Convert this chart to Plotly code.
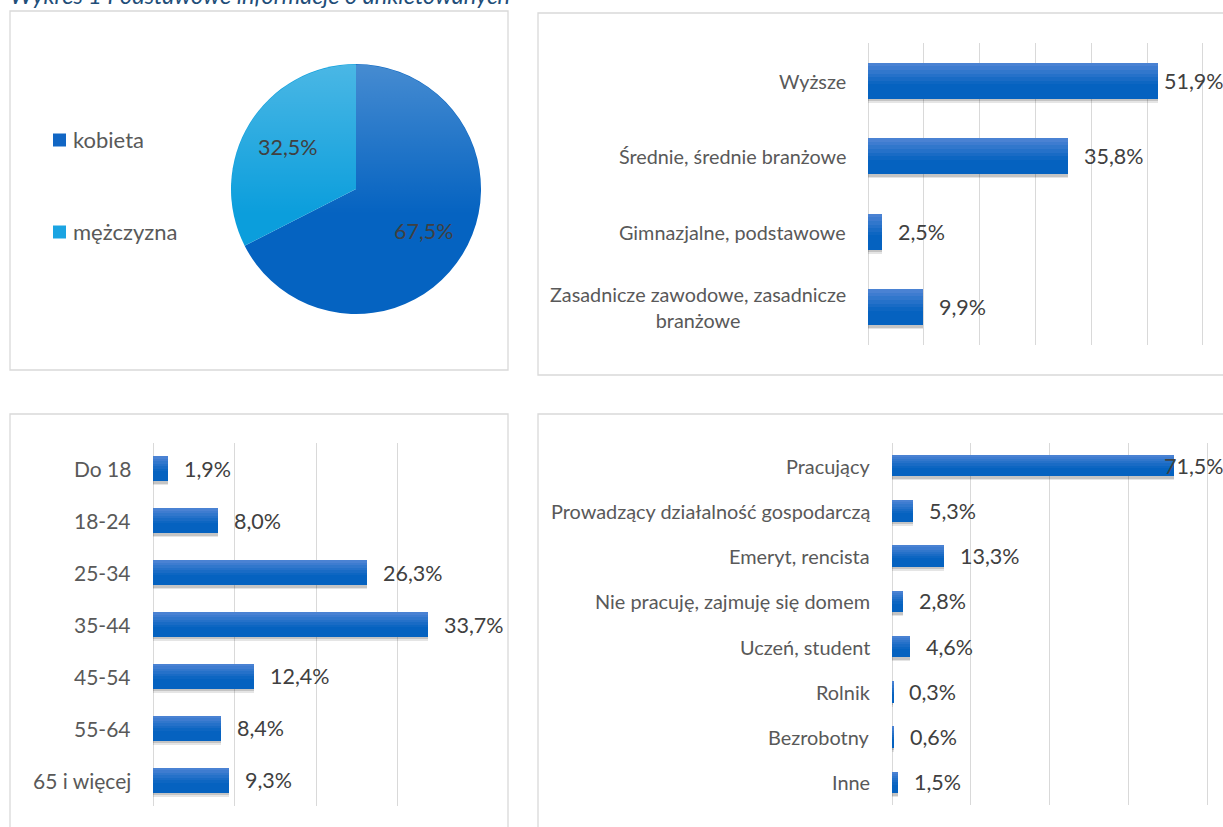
import base64
import math
import plotly.graph_objects as go

# ---------------- data ----------------
title_text = "Wykres 1 Podstawowe informacje o ankietowanych"

gender_labels = ["kobieta", "mężczyzna"]
gender_values = [67.5, 32.5]

edu_labels = ["Wyższe", "Średnie, średnie branżowe", "Gimnazjalne, podstawowe",
              "Zasadnicze zawodowe, zasadnicze<br>branżowe"]
edu_values = [51.9, 35.8, 2.5, 9.9]

age_labels = ["Do 18", "18-24", "25-34", "35-44", "45-54", "55-64", "65 i więcej"]
age_values = [1.9, 8.0, 26.3, 33.7, 12.4, 8.4, 9.3]

job_labels = ["Pracujący", "Prowadzący działalność gospodarczą", "Emeryt, rencista",
              "Nie pracuję, zajmuję się domem", "Uczeń, student", "Rolnik",
              "Bezrobotny", "Inne"]
job_values = [71.5, 5.3, 13.3, 2.8, 4.6, 0.3, 0.6, 1.5]

# ---------------- style ----------------
W, H = 1223, 827
FONT = "Lato"
TXT = "#595959"
LBL = "#404040"
GRID = "#D9D9D9"
VAL_FS = 21.5
PIE_COLORS = ["#0563C1", "#0B9EDC"]
LEGEND_COLORS = ["#1166C4", "#1BA4E2"]
BAR_TOP = (0x4A, 0x82, 0xD3)
BAR_BOT = (0x05, 0x62, 0xC0)


def px(x):
    return x / W


def py(y):
    return 1 - y / H


def fmt(v):
    return f"{v:.1f}%".replace(".", ",")


fig = go.Figure()
annotations = []
shapes = []
images = []

# panel frames
for x0, y0, x1, y1 in [(10, 11, 508, 370), (538, 13, 1240, 375),
                       (10, 414, 508, 850), (538, 414, 1240, 850)]:
    shapes.append(dict(type="rect", xref="paper", yref="paper",
                       x0=px(x0), x1=px(x1), y0=py(y1), y1=py(y0),
                       line=dict(color=GRID, width=1.3), fillcolor="rgba(0,0,0,0)",
                       layer="below"))

# title (partly above the page edge)
annotations.append(dict(text=f"<i>{title_text}</i>", xref="paper", yref="paper",
                        x=px(8), y=py(-5), xanchor="left", yanchor="middle",
                        showarrow=False, font=dict(family=FONT, size=23.5, color="#1F4E79")))

# ---------------- pie ----------------
PIE_X0, PIE_Y0, PIE_D = 231, 64, 250
fig.add_trace(go.Pie(
    labels=gender_labels, values=gender_values, sort=False, direction="clockwise",
    rotation=0, textinfo="none",
    marker=dict(colors=PIE_COLORS, line=dict(width=0)),
    domain=dict(x=[px(PIE_X0), px(PIE_X0 + PIE_D)], y=[py(PIE_Y0 + PIE_D), py(PIE_Y0)]),
    showlegend=False, hoverinfo="label+percent"))

# slice labels at each slice's mid-angle
cx, cy0, r = PIE_X0 + PIE_D / 2, PIE_Y0 + PIE_D / 2, PIE_D / 2
total = sum(gender_values)
start = 0.0
for v in gender_values:
    mid = (start + v / 2) / total * 2 * math.pi
    start += v
    lx = cx + 0.64 * r * math.sin(mid)
    ly = cy0 - 0.64 * r * math.cos(mid)
    annotations.append(dict(text=fmt(v), xref="paper", yref="paper", x=px(lx), y=py(ly),
                            xanchor="center", yanchor="middle", showarrow=False,
                            font=dict(family=FONT, size=VAL_FS, color=LBL)))

# light sheen over the upper half of the pie
sheen = (
    '<svg xmlns="http://www.w3.org/2000/svg" width="250" height="250" viewBox="0 0 250 250">'
    '<defs><linearGradient id="g" x1="0" y1="0" x2="0" y2="1">'
    '<stop offset="0" stop-color="#ffffff" stop-opacity="0.26"/>'
    '<stop offset="0.6" stop-color="#ffffff" stop-opacity="0"/>'
    '</linearGradient></defs>'
    '<circle cx="125" cy="125" r="124.5" fill="url(#g)"/></svg>'
)
images.append(dict(source="data:image/svg+xml;base64," + base64.b64encode(sheen.encode()).decode(),
                   xref="paper", yref="paper", x=px(PIE_X0), y=py(PIE_Y0),
                   sizex=PIE_D / W, sizey=PIE_D / H, sizing="stretch",
                   xanchor="left", yanchor="top", layer="above"))

# manual legend for the pie
for i, (lab, col) in enumerate(zip(gender_labels, LEGEND_COLORS)):
    ly = 140 + i * 92
    shapes.append(dict(type="rect", xref="paper", yref="paper",
                       x0=px(53), x1=px(66), y0=py(ly + 6.5), y1=py(ly - 6.5),
                       fillcolor=col, line=dict(width=0)))
    annotations.append(dict(text=lab, xref="paper", yref="paper", x=px(71), y=py(ly),
                            xanchor="left", yanchor="middle", showarrow=False,
                            font=dict(family=FONT, size=22, color=TXT)))


# ---------------- bar charts ----------------
def mix(t):
    r_, g, b = (round(BAR_TOP[k] + (BAR_BOT[k] - BAR_TOP[k]) * t) for k in range(3))
    return f"rgb({r_},{g},{b})"


def hbar(idx, cats, vals, xdom, ydom, xmax, dtick, bw, label_shift, cat_fs):
    xa = "x" if idx == 1 else f"x{idx}"
    ya = "y" if idx == 1 else f"y{idx}"
    n = len(cats)
    unit = (ydom[1] - ydom[0]) * H / n  # pixels per category
    # soft drop shadow
    for dy, a in [(4, 0.10), (2.5, 0.14)]:
        fig.add_trace(go.Bar(y=list(range(n)), x=vals, orientation="h", xaxis=xa, yaxis=ya,
                             width=bw, offset=-bw / 2 + dy / unit,
                             marker=dict(color=f"rgba(0,0,0,{a})", line=dict(width=0)),
                             showlegend=False, hoverinfo="skip"))
    # vertical gradient: each band runs from its top down to the bar's bottom edge
    nb = 10
    for b in range(nb):
        t = min(1.0, b / (nb - 1) * 1.6)
        fig.add_trace(go.Bar(y=list(range(n)), x=vals, orientation="h", xaxis=xa, yaxis=ya,
                             width=bw - b * bw / nb, offset=-bw / 2 + b * bw / nb,
                             marker=dict(color=mix(t), line=dict(width=0)),
                             showlegend=False, hoverinfo="skip"))
    x_px0 = xdom[0] * W
    scale = (xdom[1] - xdom[0]) * W / xmax
    for i, (c, v) in enumerate(zip(cats, vals)):
        end_px = x_px0 + v * scale + label_shift + 60
        if end_px > W + 2:
            annotations.append(dict(text=fmt(v), xref="paper", yref=ya, x=1, y=i,
                                    xanchor="right", yanchor="middle", xshift=3,
                                    showarrow=False,
                                    font=dict(family=FONT, size=VAL_FS, color=LBL)))
        else:
            annotations.append(dict(text=fmt(v), xref=xa, yref=ya, x=v, y=i,
                                    xanchor="left", yanchor="middle", xshift=label_shift,
                                    showarrow=False,
                                    font=dict(family=FONT, size=VAL_FS, color=LBL)))
        # category label, lines centred on each other like a wrapped label
        annotations.append(dict(text=c, xref=f"{xa} domain", yref=ya, x=0, y=i,
                                xanchor="right", yanchor="middle", align="center",
                                xshift=-20, showarrow=False,
                                font=dict(family=FONT, size=cat_fs, color=TXT)))
    axis_x = dict(domain=xdom, range=[0, xmax], dtick=dtick, showgrid=True, gridcolor=GRID,
                  gridwidth=1.3, zeroline=True, zerolinecolor=GRID, zerolinewidth=1.3,
                  showticklabels=False, showline=False, anchor=ya, fixedrange=True)
    axis_y = dict(domain=ydom, range=[n - 0.5, -0.5], showgrid=False, zeroline=False,
                  showticklabels=False, showline=False, anchor=xa, fixedrange=True,
                  tickvals=list(range(n)))
    return axis_x, axis_y


ax2x, ax2y = hbar(1, edu_labels, edu_values, [px(868), 1.0], [py(345), py(43)],
                  (W - 868) / 5.58, 10, 0.48, 14, 19.8)
ax3x, ax3y = hbar(2, age_labels, age_values, [px(153), px(479)], [py(806), py(443)],
                  40, 10, 0.48, 14, 21)
ax4x, ax4y = hbar(3, job_labels, job_values, [px(892), 1.0], [py(805), py(443)],
                  (W - 892) / 3.94, 20, 0.48, 14, 19.9)

fig.update_layout(
    width=W, height=H, autosize=False,
    margin=dict(l=0, r=0, t=0, b=0),
    paper_bgcolor="white", plot_bgcolor="rgba(0,0,0,0)",
    barmode="overlay", bargap=0,
    font=dict(family=FONT, size=20, color=TXT),
    xaxis=ax2x, yaxis=ax2y, xaxis2=ax3x, yaxis2=ax3y, xaxis3=ax4x, yaxis3=ax4y,
    annotations=annotations, shapes=shapes, images=images,
    showlegend=False,
)

fig.write_html("out.html", config={"displayModeBar": False})
